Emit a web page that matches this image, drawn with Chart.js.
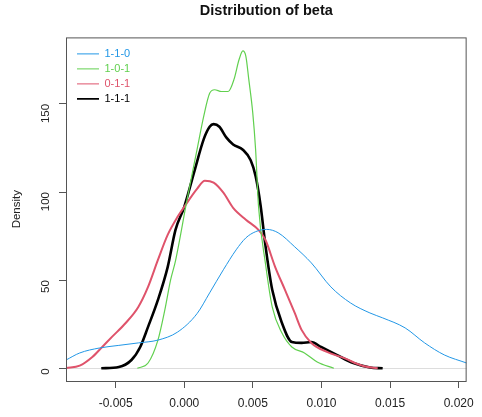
<!DOCTYPE html>
<html>
<head>
<meta charset="utf-8">
<script src="https://cdn.jsdelivr.net/npm/chart.js@4.4.1/dist/chart.umd.min.js"></script>
<style>
  html, body { margin: 0; padding: 0; background: #fff; }
  #wrap { width: 482px; height: 417px; }
</style>
</head>
<body>
<div id="wrap"><canvas id="chart" width="482" height="417"></canvas></div>
<script>
// density estimates for each model, x = beta, y = density
const seriesNames = ['1-1-0', '1-0-1', '0-1-1', '1-1-1'];
const seriesColors = ['#2297E6', '#61D04F', '#DF536B', '#000000'];
const seriesWidths = [1, 1.2, 2, 2.6];

const beta_110 = [-0.00862, -0.00762, -0.00620, -0.00477, -0.00335, -0.00192, -0.00050, 0.00093, 0.00185, 0.00285, 0.00378, 0.00449, 0.00520, 0.00600, 0.00684, 0.00805, 0.00926, 0.01068, 0.01211, 0.01353, 0.01446, 0.01610, 0.01752, 0.01895, 0.02058];
const dens_110 = [4.7, 8.7, 11.5, 13, 14.4, 16, 20.5, 31, 42.8, 55.9, 67.2, 74, 77.5, 78.8, 76.9, 68.9, 59.8, 46.2, 37.1, 31.4, 28.6, 22.9, 14.4, 7.6, 3];

const beta_101 = [-0.00342, -0.00264, -0.00192, -0.00142, -0.00100, -0.00064, 0.00021, 0.00093, 0.00142, 0.00185, 0.00221, 0.00271, 0.00320, 0.00363, 0.00399, 0.00427, 0.00449, 0.00470, 0.00499, 0.00520, 0.00541, 0.00591, 0.00641, 0.00712, 0.00784, 0.00876, 0.00969, 0.01090];
const dens_101 = [0, 3, 16, 33, 50, 61, 96, 124, 143, 156, 158, 157, 157, 164, 175, 180, 177, 164, 145, 124, 92, 59.8, 34.8, 20, 12.1, 8.7, 3.6, 0];

const beta_011 = [-0.00862, -0.00762, -0.00670, -0.00598, -0.00527, -0.00427, -0.00335, -0.00264, -0.00192, -0.00121, -0.00050, 0.0, 0.00093, 0.00150, 0.00214, 0.00285, 0.00356, 0.00449, 0.00541, 0.00591, 0.00662, 0.00734, 0.00805, 0.00855, 0.00926, 0.01040, 0.01161, 0.01304, 0.01410];
const dens_011 = [0.2, 1.5, 6.4, 12.1, 17.8, 25.7, 34.8, 46.2, 61.5, 75.7, 85.8, 91.6, 101.8, 106.4, 105.3, 99.6, 91, 84.3, 78.5, 72.9, 57.6, 44.5, 31.4, 21.8, 14.4, 9.3, 5.9, 1.3, 0];

const beta_111 = [-0.00605, -0.00477, -0.00385, -0.00321, -0.00264, -0.00192, -0.00121, -0.00064, 0.0, 0.00071, 0.00142, 0.00185, 0.00214, 0.00256, 0.00306, 0.00356, 0.00427, 0.00484, 0.00520, 0.00556, 0.00591, 0.00641, 0.00712, 0.00784, 0.00855, 0.00926, 0.00997, 0.01111, 0.01232, 0.01353, 0.01446];
const dens_111 = [0, 0.7, 4.7, 12.1, 23.5, 38.8, 57.4, 78.5, 91.6, 111, 130, 137, 138.5, 137, 131, 127, 124, 118, 109, 92.5, 70, 44.5, 25.7, 14.9, 14.4, 14.9, 12.1, 7.6, 3, 0.5, 0];

const xTicks = [-0.005, 0.000, 0.005, 0.010, 0.015, 0.020];
const yTicks = [0, 50, 100, 150];

const allX = [beta_110, beta_101, beta_011, beta_111];
const allY = [dens_110, dens_101, dens_011, dens_111];

function toPoints(xs, ys) {
    return xs.map((x, i) => ({ x: x, y: ys[i] }));
}

const datasets = seriesNames.map((name, i) => ({
    label: name,
    data: toPoints(allX[i], allY[i]),
    borderColor: seriesColors[i],
    backgroundColor: seriesColors[i],
    borderWidth: seriesWidths[i],
    pointRadius: 0,
    tension: 0.4,
    cubicInterpolationMode: 'monotone',
    fill: false
}));

// box around the plot region, like base R graphics
const plotBox = {
    id: 'plotBox',
    afterDraw(chart) {
        const a = chart.chartArea;
        const c = chart.ctx;
        c.save();
        c.strokeStyle = '#555';
        c.lineWidth = 1;
        c.strokeRect(a.left + 0.5, a.top + 0.5, a.right - a.left - 1, a.bottom - a.top);
        c.restore();
    }
};

// the chartArea legend resets its top to 0, move it into the top-left corner
// and center the title over the plot region
const fixBoxes = {
    id: 'fixBoxes',
    afterLayout(chart) {
        const a = chart.chartArea;
        const lg = chart.legend;
        if (lg) {
            const h = lg.bottom - lg.top;
            const w = lg.right - lg.left;
            lg.top = a.top + 7;
            lg.bottom = lg.top + h;
            lg.left = a.left + 7;
            lg.right = lg.left + w;
        }
        const tb = chart.titleBlock;
        if (tb) {
            tb.left = a.left;
            tb.right = a.right;
            tb.width = a.right - a.left;
        }
    }
};

new Chart(document.getElementById('chart'), {
    type: 'line',
    data: { datasets: datasets },
    plugins: [plotBox, fixBoxes],
    options: {
        responsive: false,
        animation: false,
        layout: { padding: { left: 0, right: 6, top: 0, bottom: 0 } },
        scales: {
            x: {
                type: 'linear',
                min: -0.00862,
                max: 0.02058,
                afterBuildTicks: s => { s.ticks = xTicks.map(v => ({ value: v })); },
                afterFit: s => { s.height = 36; },
                border: { display: false },
                grid: { drawOnChartArea: false, tickLength: 7, tickColor: '#555' },
                ticks: {
                    font: { family: 'Liberation Sans', size: 12 },
                    color: '#222',
                    padding: 8,
                    maxRotation: 0,
                    callback: v => v.toFixed(3)
                }
            },
            y: {
                type: 'linear',
                min: -7.2,
                max: 187.7,
                afterBuildTicks: s => { s.ticks = yTicks.map(v => ({ value: v })); },
                afterFit: s => { s.width = 66; },
                border: { display: false },
                grid: {
                    drawOnChartArea: true,
                    tickLength: 7,
                    tickColor: '#555',
                    color: ctx => (ctx.tick && ctx.tick.value === 0) ? '#dddddd' : 'rgba(0,0,0,0)'
                },
                ticks: {
                    font: { family: 'Liberation Sans', size: 11.5 },
                    color: '#222',
                    padding: 13,
                    minRotation: 90,
                    maxRotation: 90
                },
                title: {
                    display: true,
                    text: 'Density',
                    font: { family: 'Liberation Sans', size: 11.5 },
                    color: '#222',
                    padding: { top: 10, bottom: 0 }
                }
            }
        },
        plugins: {
            title: {
                display: true,
                text: 'Distribution of beta',
                fullSize: false,
                font: { family: 'Liberation Sans', size: 14.5, weight: 'bold' },
                color: '#111',
                padding: { top: 2, bottom: 18 }
            },
            legend: {
                position: 'chartArea',
                align: 'start',
                labels: {
                    usePointStyle: true,
                    pointStyle: 'line',
                    pointStyleWidth: 22,
                    boxWidth: 22,
                    padding: 4,
                    font: { family: 'Liberation Sans', size: 11 },
                    generateLabels: chart => chart.data.datasets.map((ds, i) => ({
                        text: ds.label,
                        fillStyle: ds.borderColor,
                        strokeStyle: ds.borderColor,
                        fontColor: ds.borderColor,
                        lineWidth: i === 3 ? 1.8 : 1,
                        pointStyle: 'line',
                        datasetIndex: i,
                        hidden: false
                    }))
                }
            },
            tooltip: { enabled: false }
        }
    }
});
</script>
</body>
</html>
